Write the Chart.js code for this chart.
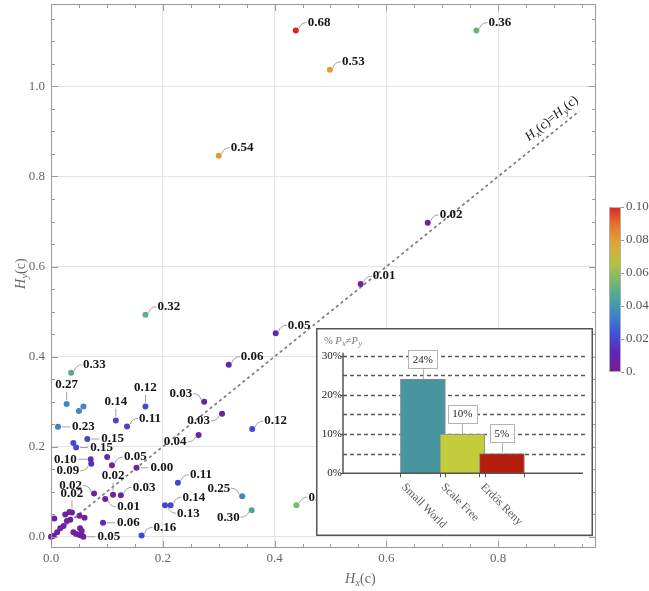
<!DOCTYPE html>
<html lang="en">
<head>
<meta charset="UTF-8" />
<title>Hx vs Hy</title>
<script src="https://cdn.jsdelivr.net/npm/chart.js"></script>
<style>
  body { margin: 0; background: #fff; }
  #wrap { position: relative; width: 649px; height: 591px; }
  #main { position: absolute; left: 0; top: 0; }
  #inset { position: absolute; left: 316px; top: 328px; }
</style>
</head>
<body>
<div id="wrap">
  <canvas id="main" width="649" height="591"></canvas>
  <canvas id="inset" width="277" height="208"></canvas>
</div>
<script>
// axis ticks
const xTickVals = [0, 0.2, 0.4, 0.6, 0.8];
const yTickVals = [0, 0.2, 0.4, 0.6, 0.8, 1.0];

// scatter points: H_x(c), H_y(c), colour value, printed tag
const hx = [0.438, 0.499, 0.761, 0.300, 0.674, 0.554, 0.169, 0.402, 0.318, 0.036,
            0.028, 0.050, 0.058, 0.0125, 0.116, 0.169, 0.136, 0.065, 0.040, 0.045,
            0.071, 0.072, 0.1005, 0.109, 0.153, 0.077, 0.111, 0.125, 0.097, 0.093,
            0.162, 0.227, 0.214, 0.204, 0.342, 0.359, 0.439, 0.360, 0.274, 0.306,
            0.264, 0.058, 0.0375, 0.0059, 0.0255, 0.033, 0.0285, 0.0345, 0.051, 0.060,
            0.0047, 0.011, 0.0166, 0.0225, 0.040, 0.045, 0.051, 0.0553, 0.052, 0.055, 0.0];
const hy = [1.124, 1.037, 1.124, 0.846, 0.697, 0.561, 0.493, 0.452, 0.382, 0.364,
            0.295, 0.279, 0.289, 0.244, 0.258, 0.289, 0.245, 0.217, 0.208, 0.198,
            0.172, 0.162, 0.177, 0.159, 0.153, 0.096, 0.093, 0.092, 0.084, 0.031,
            0.003, 0.120, 0.070, 0.070, 0.090, 0.059, 0.070, 0.239, 0.300, 0.273,
            0.226, 0.000, 0.054, 0.0405, 0.0495, 0.055, 0.035, 0.038, 0.0465, 0.042,
            0.002, 0.0097, 0.0186, 0.024, 0.0097, 0.006, 0.004, 0.002, 0.0186, 0.0126, 0.0];
const shade = [0.100, 0.080, 0.052, 0.080, 0.004, 0.004, 0.050, 0.012, 0.012, 0.048,
               0.035, 0.035, 0.035, 0.033, 0.020, 0.020, 0.020, 0.020, 0.020, 0.020,
               0.014, 0.014, 0.012, 0.008, 0.004, 0.005, 0.005, 0.005, 0.005, 0.012,
               0.020, 0.020, 0.020, 0.020, 0.035, 0.045, 0.055, 0.020, 0.005, 0.005,
               0.005, 0.005, 0.005, 0.010, 0.005, 0.005, 0.005, 0.005, 0.005, 0.005,
               0.005, 0.005, 0.005, 0.005, 0.005, 0.005, 0.005, 0.005, 0.005, 0.005, 0.005];
const tags = ["0.68", "0.53", "0.36", "0.54", "0.02", "0.01", "0.32", "0.05", "0.06", "0.33",
              "0.27", "", "", "0.23", "0.14", "0.12", "0.11", "0.15", "", "0.15",
              "0.10", "0.09", "", "0.05", "0.00", "0.02", "0.02", "0.03", "0.01", "0.06",
              "0.16", "0.11", "0.14", "0.13", "0.25", "0.30", "0.28", "0.12", "0.03", "0.03",
              "0.04", "0.05", "0.02"];

// where each tag sits around its point (style only)
const tagSide = ["ne", "ne", "ne", "ne", "ne", "ne", "ne", "ne", "ne", "ne",
                 "n", "", "", "e", "n", "n", "ne", "e", "", "e",
                 "w", "sw", "", "ne", "e", "nw", "n", "ne", "se", "e",
                 "ne", "ne", "ne", "se", "nw", "sw", "ne", "ne", "nw", "sw",
                 "sw", "e", "n"];

// the H_x = H_y reference line
const refX = [0, 0.945];
const refY = [0, 0.945];

// colour bar
const legendVals = [0.10, 0.08, 0.06, 0.04, 0.02, 0];
const legendText = ["0.10", "0.08", "0.06", "0.04", "0.02", "0."];

// inset bars
const groups = ["Small World", "Scale Free", "Erdős Reny"];
const shares = [24, 10, 5];
const shareTicks = [0, 10, 20, 30];
const shareGrid = [5, 10, 15, 20, 25, 30];

const SERIF = '"Liberation Serif", "DejaVu Serif", serif';

// Rainbow-like colour scale for 0 .. 0.1
const stops = [
  [0.00, [120, 30, 140]], [0.12, [95, 40, 185]], [0.22, [65, 78, 212]],
  [0.32, [62, 122, 206]], [0.40, [70, 150, 176]], [0.48, [86, 170, 142]],
  [0.56, [122, 186, 106]], [0.66, [182, 192, 66]], [0.78, [224, 165, 52]],
  [0.90, [230, 112, 45]], [1.00, [220, 36, 36]]
];
function rainbow(v) {
  const t = Math.max(0, Math.min(1, v / 0.1));
  for (let i = 1; i < stops.length; i++) {
    if (t <= stops[i][0]) {
      const a = stops[i - 1], b = stops[i];
      const f = (t - a[0]) / (b[0] - a[0]);
      const c = a[1].map((q, k) => Math.round(q + (b[1][k] - q) * f));
      return `rgb(${c[0]},${c[1]},${c[2]})`;
    }
  }
  return "rgb(220,36,36)";
}

// draws text made of pieces: [text, kind] kind = "" normal, "i" italic, "s" italic subscript
function rich(ctx, parts, x, y, size, color, align) {
  const fontOf = k => k === "s" ? `italic ${Math.round(size * 0.72)}px ${SERIF}`
                    : (k === "i" ? "italic " : "") + `${size}px ${SERIF}`;
  let total = 0;
  parts.forEach(p => { ctx.font = fontOf(p[1]); total += ctx.measureText(p[0]).width; });
  let cx = align === "center" ? x - total / 2 : x;
  ctx.fillStyle = color;
  ctx.textAlign = "left";
  ctx.textBaseline = "alphabetic";
  parts.forEach(p => {
    ctx.font = fontOf(p[1]);
    ctx.fillText(p[0], cx, p[1] === "s" ? y + size * 0.22 : y);
    cx += ctx.measureText(p[0]).width + (p[1] === "i" ? 0.5 : 0);
  });
}

const sides = {
  ne: { tx: 12, ty: -8, al: "left", lead: [3, -2, 5, -8, 11, -8] },
  se: { tx: 12, ty: 8, al: "left", lead: [3, 2, 5, 8, 11, 8] },
  nw: { tx: -12, ty: -8, al: "right", lead: [-3, -2, -5, -8, -11, -8] },
  sw: { tx: -12, ty: 7, al: "right", lead: [-3, 2, -5, 7, -11, 7] },
  e: { tx: 14, ty: 0, al: "left", lead: [4, 0, 8, 0, 12, 0] },
  w: { tx: -14, ty: 0, al: "right", lead: [-4, 0, -8, 0, -12, 0] },
  n: { tx: 0, ty: -19, al: "center", lead: [0, -4, 0, -8, 0, -12] }
};

const mainDecor = {
  id: "mainDecor",
  afterDatasetsDraw(chart) {
    const ctx = chart.ctx;
    const meta = chart.getDatasetMeta(1);
    ctx.save();
    meta.data.forEach((pt, i) => {
      if (!tags[i]) return;
      const s = sides[tagSide[i]];
      const l = s.lead;
      ctx.strokeStyle = "#a0a0a0";
      ctx.lineWidth = 1;
      ctx.beginPath();
      ctx.moveTo(pt.x + l[0], pt.y + l[1]);
      ctx.quadraticCurveTo(pt.x + l[2], pt.y + l[3], pt.x + l[4], pt.y + l[5]);
      ctx.stroke();
      ctx.font = `bold 13px ${SERIF}`;
      ctx.fillStyle = "#151515";
      ctx.textAlign = s.al;
      ctx.textBaseline = "middle";
      ctx.fillText(tags[i], pt.x + s.tx, pt.y + s.ty);
    });
    ctx.restore();
  },
  afterDraw(chart) {
    const ctx = chart.ctx;
    const a = chart.chartArea;
    const xs = chart.scales.x, ys = chart.scales.y;
    ctx.save();
    // frame
    ctx.strokeStyle = "#9a9a9a";
    ctx.lineWidth = 1;
    ctx.strokeRect(a.left + 0.5, a.top + 0.5, a.right - a.left - 1, a.bottom - a.top - 1);
    // inward ticks on all sides
    ctx.beginPath();
    for (let k = 0; k <= 19; k++) {
      const v = k * 0.05;
      if (v > xs.max) break;
      const px = Math.round(xs.getPixelForValue(v)) + 0.5;
      const len = k % 4 === 0 ? 7 : 4;
      ctx.moveTo(px, a.bottom); ctx.lineTo(px, a.bottom - len);
      ctx.moveTo(px, a.top); ctx.lineTo(px, a.top + len);
    }
    for (let k = 0; k <= 23; k++) {
      const v = k * 0.05;
      if (v > ys.max) break;
      const py = Math.round(ys.getPixelForValue(v)) + 0.5;
      const len = k % 4 === 0 ? 7 : 4;
      ctx.moveTo(a.left, py); ctx.lineTo(a.left + len, py);
      ctx.moveTo(a.right, py); ctx.lineTo(a.right - len, py);
    }
    ctx.stroke();

    // axis titles
    rich(ctx, [["H", "i"], ["x", "s"], ["(c)", ""]], 345, 583, 14, "#666", "left");
    ctx.save();
    ctx.translate(25, 274);
    ctx.rotate(-Math.PI / 2);
    rich(ctx, [["H", "i"], ["y", "s"], ["(c)", ""]], 0, 0, 14, "#666", "center");
    ctx.restore();

    // label along the reference line
    const t = 0.908;
    const p0x = xs.getPixelForValue(0), p0y = ys.getPixelForValue(0);
    const p1x = xs.getPixelForValue(1), p1y = ys.getPixelForValue(1);
    const ang = Math.atan2(p1y - p0y, p1x - p0x);
    const ax = xs.getPixelForValue(t), ay = ys.getPixelForValue(t);
    ctx.save();
    ctx.translate(ax, ay);
    ctx.rotate(ang);
    rich(ctx, [["H", "i"], ["x", "s"], ["(c)=", ""], ["H", "i"], ["y", "s"], ["(c)", ""]],
         0, -8, 13, "#111", "center");
    ctx.restore();

    // colour bar
    const cbL = 609, cbR = 621, cbT = 207, cbB = 372;
    const g = ctx.createLinearGradient(0, cbB, 0, cbT);
    stops.forEach(s => g.addColorStop(s[0], `rgb(${s[1][0]},${s[1][1]},${s[1][2]})`));
    ctx.fillStyle = g;
    ctx.fillRect(cbL, cbT, cbR - cbL, cbB - cbT);
    ctx.strokeStyle = "#b0b0b0";
    ctx.strokeRect(cbL + 0.5, cbT + 0.5, cbR - cbL - 1, cbB - cbT - 1);
    ctx.font = `13px ${SERIF}`;
    ctx.fillStyle = "#555";
    ctx.textAlign = "left";
    ctx.textBaseline = "middle";
    legendVals.forEach((v, i) => {
      const py = cbB - (v / 0.1) * (cbB - cbT);
      ctx.beginPath();
      ctx.moveTo(cbR, Math.round(py) + 0.5);
      ctx.lineTo(cbR + 3, Math.round(py) + 0.5);
      ctx.strokeStyle = "#999";
      ctx.stroke();
      ctx.fillText(legendText[i], cbR + 5, py);
    });
    ctx.restore();
  }
};

const pts = hx.map((v, i) => ({ x: v, y: hy[i] }));

new Chart(document.getElementById("main"), {
  type: "scatter",
  data: {
    datasets: [
      {
        type: "line",
        data: refX.map((v, i) => ({ x: v, y: refY[i] })),
        borderColor: "#7d7d7d",
        borderWidth: 1.7,
        borderDash: [3, 3],
        pointRadius: 0,
        fill: false,
        order: 1
      },
      {
        data: pts,
        pointRadius: 3,
        pointBorderWidth: 0,
        pointBackgroundColor: shade.map(rainbow),
        clip: false,
        order: 0
      }
    ]
  },
  options: {
    responsive: false,
    animation: false,
    layout: { padding: { left: 0, right: 53, top: 3, bottom: 0 } },
    plugins: { legend: { display: false }, tooltip: { enabled: false } },
    scales: {
      x: {
        type: "linear", min: 0, max: 0.975,
        afterBuildTicks: s => { s.ticks = xTickVals.map(v => ({ value: v })); },
        afterFit: s => { s.height = 43; s.paddingLeft = 0; s.paddingRight = 0; },
        grid: { color: "#e3e3e3", drawTicks: false },
        border: { display: false },
        ticks: { padding: 3, color: "#666", font: { family: SERIF, size: 13 },
                 callback: v => v.toFixed(1) }
      },
      y: {
        type: "linear", min: -0.025, max: 1.183,
        afterBuildTicks: s => { s.ticks = yTickVals.map(v => ({ value: v })); },
        afterFit: s => { s.width = 51; s.paddingTop = 0; s.paddingBottom = 0; },
        grid: { color: "#e3e3e3", drawTicks: false },
        border: { display: false },
        ticks: { padding: 6, color: "#666", font: { family: SERIF, size: 13 },
                 callback: v => v.toFixed(1) }
      }
    }
  },
  plugins: [mainDecor]
});

// ---------- inset bar chart ----------
const barFill = ["#46959f", "#c3cc3a", "#b41d0d"];

const insetDecor = {
  id: "insetDecor",
  beforeDraw(chart) {
    const ctx = chart.ctx;
    ctx.save();
    ctx.fillStyle = "#fff";
    ctx.fillRect(0, 0, chart.width, chart.height);
    ctx.restore();
  },
  beforeDatasetsDraw(chart) {
    const ctx = chart.ctx, a = chart.chartArea, ys = chart.scales.y;
    ctx.save();
    ctx.strokeStyle = "#5a5a5a";
    ctx.lineWidth = 1.3;
    ctx.setLineDash([4, 3]);
    shareGrid.forEach(v => {
      const py = Math.round(ys.getPixelForValue(v)) + 0.5;
      ctx.beginPath();
      ctx.moveTo(a.left, py);
      ctx.lineTo(a.right + 2, py);
      ctx.stroke();
    });
    ctx.restore();
  },
  afterDatasetsDraw(chart) {
    const ctx = chart.ctx, a = chart.chartArea, ys = chart.scales.y;
    const bars = chart.getDatasetMeta(0).data;
    ctx.save();
    // axes
    ctx.strokeStyle = "#555";
    ctx.lineWidth = 1.5;
    ctx.beginPath();
    ctx.moveTo(a.left, a.top - 1);
    ctx.lineTo(a.left, a.bottom);
    ctx.lineTo(a.right - 2, a.bottom);
    ctx.stroke();
    ctx.lineWidth = 1;
    ctx.beginPath();
    shareTicks.forEach(v => {
      const py = Math.round(ys.getPixelForValue(v)) + 0.5;
      ctx.moveTo(a.left - 3, py); ctx.lineTo(a.left + 4, py);
    });
    bars.forEach(b => {
      const h = b.width / 2;
      [b.x - h, b.x + h].forEach(ex => {
        ctx.moveTo(Math.round(ex) + 0.5, a.bottom); ctx.lineTo(Math.round(ex) + 0.5, a.bottom + 4);
      });
    });
    ctx.stroke();

    // value boxes
    bars.forEach((b, i) => {
      const txt = shares[i] + "%";
      ctx.font = `11px ${SERIF}`;
      const w = ctx.measureText(txt).width + 9;
      const hgt = 18;
      const bottom = b.y - 11.5;
      ctx.strokeStyle = "#b4b4b4";
      ctx.lineWidth = 1;
      ctx.beginPath();
      ctx.moveTo(Math.round(b.x) + 0.5, bottom);
      ctx.lineTo(Math.round(b.x) + 0.5, b.y);
      ctx.stroke();
      ctx.fillStyle = "#fff";
      ctx.fillRect(b.x - w / 2, bottom - hgt, w, hgt);
      ctx.strokeRect(Math.round(b.x - w / 2) + 0.5, Math.round(bottom - hgt) + 0.5, Math.round(w), hgt);
      ctx.fillStyle = "#222";
      ctx.textAlign = "center";
      ctx.textBaseline = "middle";
      ctx.fillText(txt, b.x, bottom - hgt / 2 + 1);
    });

    // slanted category names
    bars.forEach((b, i) => {
      ctx.save();
      ctx.translate(b.x - b.width / 2 + 3, a.bottom + 12);
      ctx.rotate(Math.PI / 4);
      ctx.font = `11.5px ${SERIF}`;
      ctx.fillStyle = "#555";
      ctx.textAlign = "left";
      ctx.textBaseline = "middle";
      ctx.fillText(groups[i], 0, 0);
      ctx.restore();
    });

    // title
    rich(ctx, [["% ", ""], ["P", "i"], ["x", "s"], ["≠", ""], ["P", "i"], ["y", "s"]],
         8, 16, 10.5, "#7a7a7a", "left");

    // frame
    ctx.strokeStyle = "#555";
    ctx.lineWidth = 1.5;
    ctx.strokeRect(0.75, 0.75, chart.width - 1.5, chart.height - 1.5);
    ctx.restore();
  }
};

new Chart(document.getElementById("inset"), {
  type: "bar",
  data: {
    datasets: [{
      data: shares.map((v, i) => ({ x: i + 1, y: v })),
      backgroundColor: barFill,
      borderColor: "#8a8a8a",
      borderWidth: 1,
      barThickness: 45
    }]
  },
  options: {
    responsive: false,
    animation: false,
    layout: { padding: { left: 0, right: 8, top: 25.7, bottom: 0 } },
    plugins: { legend: { display: false }, tooltip: { enabled: false } },
    scales: {
      x: {
        type: "linear", min: -0.41, max: 4.49,
        afterFit: s => { s.height = 62.7; s.paddingLeft = 0; s.paddingRight = 0; },
        ticks: { display: false },
        grid: { display: false, drawTicks: false },
        border: { display: false }
      },
      y: {
        min: 0, max: 30.5,
        afterBuildTicks: s => { s.ticks = shareTicks.map(v => ({ value: v })); },
        afterFit: s => { s.width = 27; s.paddingTop = 0; s.paddingBottom = 0; },
        grid: { display: false, drawTicks: false },
        border: { display: false },
        ticks: { padding: 1, color: "#222", font: { family: SERIF, size: 11 },
                 callback: v => v + "%" }
      }
    }
  },
  plugins: [insetDecor]
});
</script>
</body>
</html>
